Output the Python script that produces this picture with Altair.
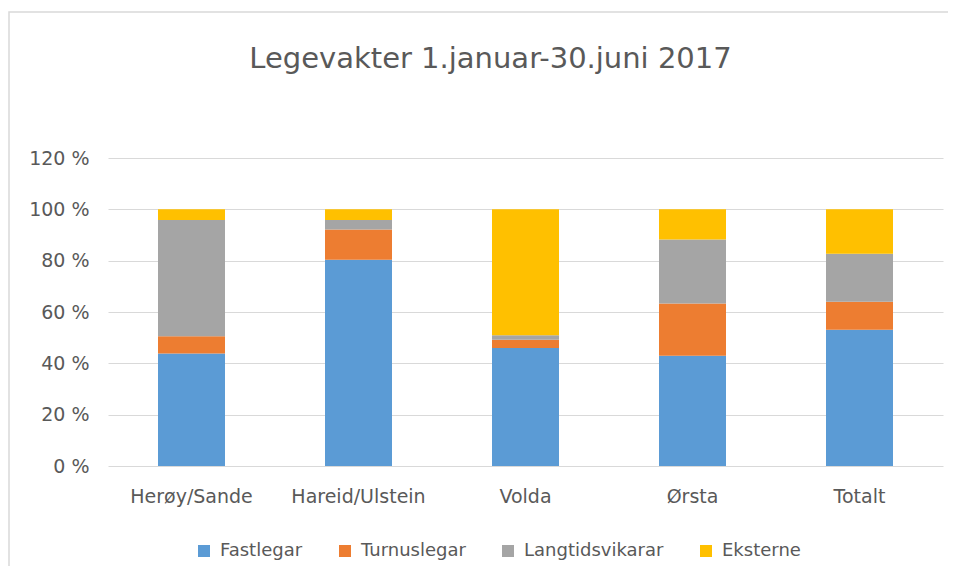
import altair as alt
import pandas as pd

categories = ["Herøy/Sande", "Hareid/Ulstein", "Volda", "Ørsta", "Totalt"]
series = ["Fastlegar", "Turnuslegar", "Langtidsvikarar", "Eksterne"]
fastlegar = [43.8, 80.4, 46.0, 43.0, 53.1]
turnuslegar = [6.8, 11.7, 3.2, 20.3, 10.9]
langtidsvikarar = [45.2, 3.7, 1.7, 24.9, 18.7]
eksterne = [4.2, 4.2, 49.1, 11.8, 17.3]
colors = ["#5b9bd5", "#ed7d31", "#a5a5a5", "#ffc000"]
y_ticks = [0, 20, 40, 60, 80, 100, 120]

rows = []
for si, (name, vals) in enumerate(zip(series, [fastlegar, turnuslegar, langtidsvikarar, eksterne])):
    for c, v in zip(categories, vals):
        rows.append({"kommune": c, "serie": name, "verdi": v, "idx": si})
df = pd.DataFrame(rows)

FONT = "DejaVu Sans"
GREY = "#595959"

bars = alt.Chart(df).mark_bar(size=67).encode(
    x=alt.X("kommune:N", sort=categories, title=None,
            scale=alt.Scale(paddingInner=0.6, paddingOuter=0.3),
            axis=alt.Axis(labelAngle=0, ticks=False, domain=False, labelPadding=21,
                          labelFontSize=19, labelColor=GREY, labelFont=FONT)),
    y=alt.Y("verdi:Q", title=None, stack="zero",
            scale=alt.Scale(domain=[0, 120], nice=False),
            axis=alt.Axis(values=y_ticks, labelExpr="datum.value + ' %'", ticks=False,
                          domain=False, labelPadding=19, labelFontSize=19,
                          labelColor=GREY, labelFont=FONT, gridColor="#d9d9d9")),
    color=alt.Color("serie:N", sort=series,
                    scale=alt.Scale(domain=series, range=colors),
                    legend=alt.Legend(title=None, orient="none", direction="horizontal",
                                      legendX=87, legendY=384, symbolType="square",
                                      symbolSize=144, labelFontSize=18, labelColor=GREY,
                                      labelFont=FONT, columnPadding=33, labelOffset=7,
                                      symbolStrokeWidth=0)),
    order=alt.Order("idx:Q", sort="ascending"),
)

frame = alt.Chart(pd.DataFrame({"a": [0]})).mark_rect(
    fill=None, stroke="#d9d9d9", strokeWidth=1.5
).encode(x=alt.value(-99), x2=alt.value(900), y=alt.value(-146), y2=alt.value(440))

chart = alt.layer(frame, bars).properties(
    width=835, height=308,
    title=alt.TitleParams("Legevakter 1.januar-30.juni 2017", fontSize=29, font=FONT,
                          fontWeight="normal", color=GREY, anchor="middle", dx=-35,
                          offset=-63, frame="group"),
    autosize=alt.AutoSizeParams(type="none"),
    padding={"left": 100, "top": 150, "right": 5, "bottom": 100},
).configure_view(stroke=None)

chart.save("out.html", embed_options={"renderer": "svg", "actions": False})
